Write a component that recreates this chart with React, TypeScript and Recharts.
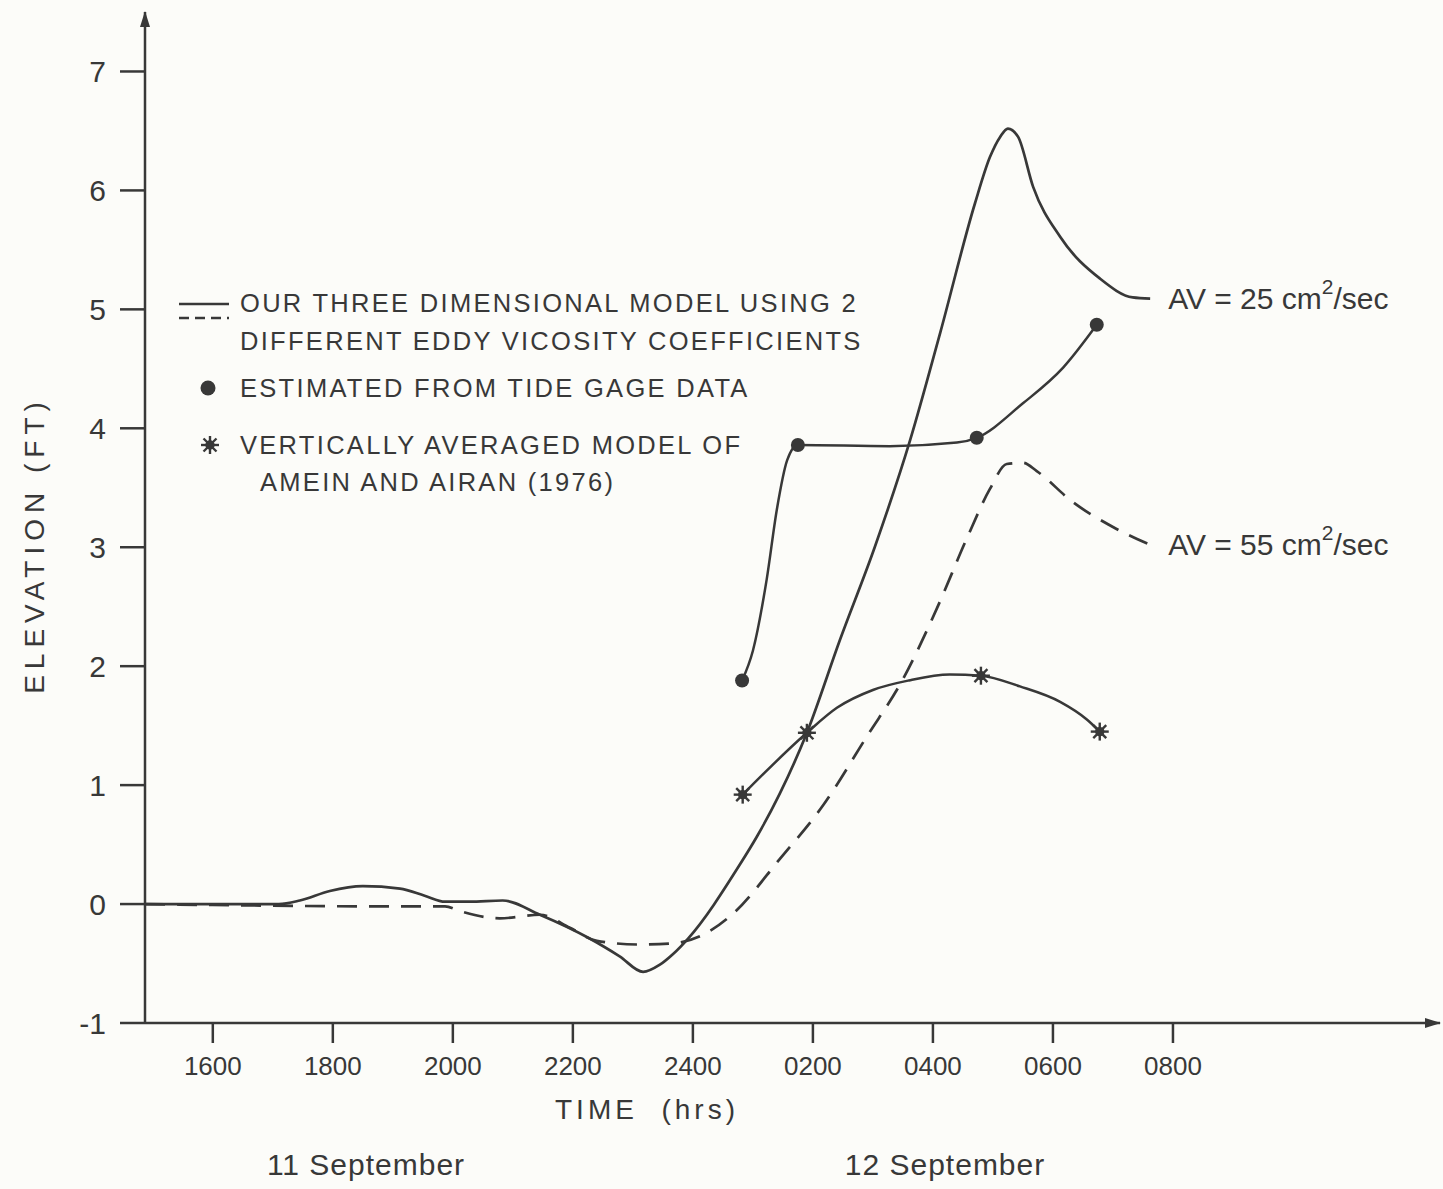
import { ComposedChart, Line, XAxis, YAxis } from "recharts";

const ink = "#383838";
const paper = "#fcfcf9";
const font = '"Liberation Sans", Arial, sans-serif';

// x is clock hours counted from 0000 on 11 September (24 = midnight, 26 = 0200 on the 12th)
const timeTicks = [16, 18, 20, 22, 24, 26, 28, 30, 32];
const elevationTicks = [-1, 0, 1, 2, 3, 4, 5, 6, 7];

// three dimensional model, AV = 25 cm2/sec (solid)
const av25Hours = [14.87, 17.1, 17.45, 17.95, 18.5, 19.12, 19.53, 19.87, 20.28, 20.83, 21.45, 22.28, 22.78, 23.17, 23.45, 23.67, 23.92, 24.78, 25.07, 25.45, 25.9, 26.45, 27.03, 27.62, 28.12, 28.7, 28.95, 29.12, 29.25, 29.42, 29.67, 30.12, 30.78, 31.33, 31.62];
const av25Feet = [0, 0, 0.03, 0.11, 0.15, 0.13, 0.07, 0.02, 0.02, 0.03, -0.09, -0.29, -0.44, -0.57, -0.51, -0.42, -0.29, 0.33, 0.57, 0.93, 1.44, 2.22, 3.0, 3.9, 4.8, 5.89, 6.28, 6.45, 6.52, 6.45, 6.03, 5.61, 5.26, 5.1, 5.09];

// three dimensional model, AV = 55 cm2/sec (dashed)
const av55Hours = [14.87, 19.12, 19.87, 20.12, 20.78, 21.45, 21.95, 22.4, 23.12, 23.67, 24.12, 24.67, 25.45, 26.17, 26.9, 27.5, 28.07, 28.57, 28.95, 29.23, 29.5, 29.73, 30.33, 31.0, 31.62];
const av55Feet = [0, -0.02, -0.02, -0.06, -0.12, -0.09, -0.2, -0.31, -0.34, -0.33, -0.27, -0.08, 0.38, 0.83, 1.41, 1.89, 2.49, 3.08, 3.49, 3.7, 3.71, 3.64, 3.38, 3.17, 3.02];

// estimated from tide gage data
const gageHours = [24.82, 25.75, 28.73, 30.73];
const gageFeet = [1.88, 3.86, 3.92, 4.87];
const gageCurveHours = [24.82, 25.0, 25.23, 25.4, 25.57, 25.75, 27.28, 28.4, 28.73, 29.5, 30.17, 30.73];
const gageCurveFeet = [1.88, 2.13, 2.73, 3.32, 3.73, 3.86, 3.85, 3.88, 3.92, 4.21, 4.51, 4.87];

// vertically averaged model of Amein and Airan (1976)
const ameinHours = [24.83, 25.9, 28.8, 30.78];
const ameinFeet = [0.92, 1.44, 1.92, 1.45];
const ameinCurveHours = [24.83, 25.9, 26.4, 27.0, 27.6, 28.28, 28.8, 29.45, 30.12, 30.57, 30.78];
const ameinCurveFeet = [0.92, 1.44, 1.65, 1.8, 1.88, 1.93, 1.92, 1.83, 1.7, 1.55, 1.45];

const zip = (hours: number[], feet: number[]) => hours.map((h, i) => ({ h, v: feet[i] }));

const av25 = zip(av25Hours, av25Feet);
const av55 = zip(av55Hours, av55Feet);
const gage = zip(gageHours, gageFeet);
const gageCurve = zip(gageCurveHours, gageCurveFeet);
const amein = zip(ameinHours, ameinFeet);
const ameinCurve = zip(ameinCurveHours, ameinCurveFeet);

const formatHour = (h: number) => (h === 24 ? "2400" : String((h % 24) * 100).padStart(4, "0"));

function StarMark({ cx, cy, r = 9 }: { cx: number; cy: number; r?: number }) {
  const d = r * 0.72;
  return (
    <g stroke={ink} strokeWidth={2.4}>
      <line x1={cx} y1={cy - r} x2={cx} y2={cy + r} />
      <line x1={cx - r} y1={cy} x2={cx + r} y2={cy} />
      <line x1={cx - d} y1={cy - d} x2={cx + d} y2={cy + d} />
      <line x1={cx - d} y1={cy + d} x2={cx + d} y2={cy - d} />
      <circle cx={cx} cy={cy} r={3.5} fill={ink} />
    </g>
  );
}

const endLabel = (value: string, last: number) => (p: any) => {
  if (p.index !== last) return null;
  return (
    <text key="end" x={p.x + 18} y={p.y + 10} fill={ink} fontSize={30} fontFamily={font}>
      {`AV = ${value} cm`}
      <tspan dy={-15} fontSize={21}>2</tspan>
      <tspan dy={15}>/sec</tspan>
    </text>
  );
};

const abs = (left: number, top: number, extra: React.CSSProperties = {}): React.CSSProperties => ({
  position: "absolute",
  left,
  top,
  whiteSpace: "nowrap",
  color: ink,
  fontFamily: font,
  lineHeight: 1,
  ...extra,
});

const legendText = { fontSize: 25.5, letterSpacing: 2.3, transform: "translateY(-50%)" };

export default function App() {
  return (
    <div style={{ position: "absolute", left: 0, top: 0, width: 1443, height: 1189, background: paper, overflow: "hidden" }}>
      <svg width={0} height={0} style={{ position: "absolute" }}>
        <defs>
          <marker id="arrow" viewBox="0 0 16 12" refX={15} refY={6} markerWidth={16} markerHeight={12} markerUnits="userSpaceOnUse" orient="auto-start-reverse">
            <path d="M0,1 L16,6 L0,11 Z" fill={ink} />
          </marker>
        </defs>
      </svg>

      <ComposedChart width={1443} height={1189} margin={{ top: 12, right: 3, bottom: 0, left: 0 }}>
        <XAxis
          type="number"
          dataKey="h"
          domain={[14.87, 36.45]}
          allowDataOverflow
          ticks={timeTicks}
          tickFormatter={formatHour}
          tickSize={20}
          tickMargin={14}
          height={166}
          axisLine={{ stroke: ink, strokeWidth: 2.5, markerEnd: "url(#arrow)" }}
          tickLine={{ stroke: ink, strokeWidth: 2.5 }}
          tick={{ fill: ink, fontSize: 26, fontFamily: font }}
        />
        <YAxis
          type="number"
          dataKey="v"
          domain={[-1, 7.5]}
          allowDataOverflow
          ticks={elevationTicks}
          tickSize={25}
          tickMargin={14}
          width={145}
          axisLine={{ stroke: ink, strokeWidth: 2.5, markerStart: "url(#arrow)" }}
          tickLine={{ stroke: ink, strokeWidth: 2.5 }}
          tick={{ fill: ink, fontSize: 30, fontFamily: font }}
        />
        <Line data={av25} dataKey="v" type="monotoneX" stroke={ink} strokeWidth={2.7} dot={false} isAnimationActive={false} label={endLabel("25", av25.length - 1)} />
        <Line data={av55} dataKey="v" type="monotoneX" stroke={ink} strokeWidth={2.7} strokeDasharray="20 12" dot={false} isAnimationActive={false} label={endLabel("55", av55.length - 1)} />
        <Line data={gageCurve} dataKey="v" type="monotoneX" stroke={ink} strokeWidth={2.5} dot={false} isAnimationActive={false} />
        <Line data={ameinCurve} dataKey="v" type="monotoneX" stroke={ink} strokeWidth={2.5} dot={false} isAnimationActive={false} />
        <Line
          data={gage}
          dataKey="v"
          stroke="none"
          isAnimationActive={false}
          dot={(p: any) => <circle key={p.index} cx={p.cx} cy={p.cy} r={7} fill={ink} />}
        />
        <Line
          data={amein}
          dataKey="v"
          stroke="none"
          isAnimationActive={false}
          dot={(p: any) => <StarMark key={p.index} cx={p.cx} cy={p.cy} />}
        />
      </ComposedChart>

      <div style={abs(35, 545, { fontSize: 28, letterSpacing: 6, transform: "translate(-50%, -50%) rotate(-90deg)" })}>
        ELEVATION (FT)
      </div>
      <div style={abs(647, 1110, { fontSize: 28, letterSpacing: 4, transform: "translate(-50%, -50%)" })}>
        TIME&nbsp;&nbsp;(hrs)
      </div>
      <div style={abs(366, 1165, { fontSize: 30, letterSpacing: 1, transform: "translate(-50%, -50%)" })}>11 September</div>
      <div style={abs(945, 1165, { fontSize: 30, letterSpacing: 1, transform: "translate(-50%, -50%)" })}>12 September</div>

      <svg width={54} height={30} style={{ position: "absolute", left: 177, top: 292 }}>
        <line x1={2} y1={12} x2={52} y2={12} stroke={ink} strokeWidth={2.4} />
        <line x1={2} y1={26} x2={52} y2={26} stroke={ink} strokeWidth={2.4} strokeDasharray="10 6" />
      </svg>
      <div style={abs(240, 304, legendText)}>OUR THREE DIMENSIONAL MODEL USING 2</div>
      <div style={abs(240, 342, legendText)}>DIFFERENT EDDY VICOSITY COEFFICIENTS</div>
      <svg width={20} height={20} style={{ position: "absolute", left: 198, top: 378 }}>
        <circle cx={10} cy={10} r={7.5} fill={ink} />
      </svg>
      <div style={abs(240, 389, legendText)}>ESTIMATED FROM TIDE GAGE DATA</div>
      <svg width={24} height={24} style={{ position: "absolute", left: 198, top: 433 }}>
        <StarMark cx={12} cy={12} />
      </svg>
      <div style={abs(240, 446, legendText)}>VERTICALLY AVERAGED MODEL OF</div>
      <div style={abs(260, 483, legendText)}>AMEIN AND AIRAN (1976)</div>
    </div>
  );
}
